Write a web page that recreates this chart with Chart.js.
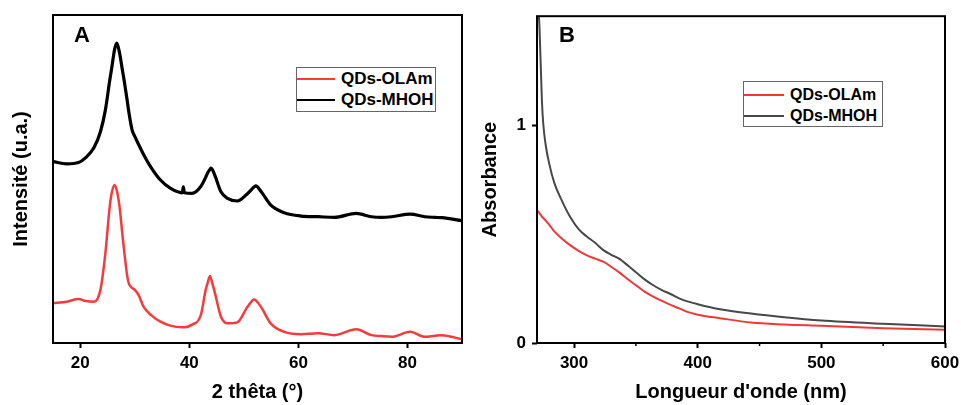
<!DOCTYPE html>
<html lang="fr">
<head>
<meta charset="utf-8">
<title>QDs - DRX et absorbance</title>
<script src="https://cdn.jsdelivr.net/npm/chart.js@4.4.1/dist/chart.umd.min.js"></script>
<style>
  body { margin: 0; background: #fff; }
  #wrap { position: relative; width: 961px; height: 405px; font-family: Arial, "Liberation Sans", sans-serif; }
  canvas { position: absolute; top: 0; }
  #chartA { left: 0; }
  #chartB { left: 480px; }
  .panel-letter { position: absolute; font-weight: bold; font-size: 22px; line-height: 22px; color: #000; }
  .legend { position: absolute; border: 1px solid #666; background: #fff; box-sizing: border-box; }
  .legend-row { display: flex; align-items: center; height: 21px; font-weight: bold; color: #000; white-space: nowrap; }
  .legend-line { display: inline-block; height: 2px; margin-right: 6px; }
  #legendA { left: 296px; top: 67px; width: 140px; height: 45px; font-size: 17px; }
  #legendA .legend-line { width: 38px; }
  #legendB { left: 743px; top: 81px; width: 140px; height: 46px; font-size: 16px; padding-top: 2px; }
  #legendB .legend-line { width: 40px; }
</style>
</head>
<body>
<div id="wrap">
  <canvas id="chartA" width="480" height="405"></canvas>
  <canvas id="chartB" width="481" height="405"></canvas>
  <div class="panel-letter" style="left:74px; top:24px;">A</div>
  <div class="panel-letter" style="left:559px; top:24px;">B</div>
  <div class="legend" id="legendA"></div>
  <div class="legend" id="legendB"></div>
</div>
<script>
// DRX (panel A)
const xrdAngle = [15, 17.5, 19.7, 21, 22.5, 23.7, 24.6, 25.4, 25.8, 26.3, 26.7, 27.2, 27.7, 28.1, 28.6, 28.9,
  29.5, 30, 30.7, 31.6, 33, 34.7, 36.5, 38.7, 38.9, 39.1, 40.5, 42.1, 43, 43.3, 43.8, 44, 44.7, 45.8, 47,
  48.8, 50.7, 51.9, 52.2, 53.1, 53.5, 54.9, 57.4, 60.5, 63.6, 66.6, 70.6, 73.4, 75.2, 77.1, 80.5, 83.2, 85,
  86.3, 90];
const xrdOlam = [12.1, 12.6, 13.4, 12.8, 12.6, 16.2, 27.3, 41.6, 46.0, 48.2, 46.5, 41.6, 33.5, 27.3, 20.5, 18.2,
  16.8, 16.2, 14.6, 11.1, 8.5, 6.5, 5.3, 4.8, 4.8, 4.8, 5.6, 8.5, 16.2, 18.0, 20.4, 19.5, 15.2, 8.0, 6.0,
  6.3, 11.1, 13.3, 13.0, 11.1, 10.0, 6.0, 3.4, 2.7, 3.0, 2.4, 4.2, 2.4, 2.1, 1.9, 3.4, 1.9, 2.2,
  2.4, 1.1];
const xrdMhoh = [55.3, 54.6, 55.0, 56.5, 59.5, 64.4, 71.0, 80.0, 84.2, 89.5, 91.4, 88.5, 83.5, 79.5, 74.0, 70.5,
  65.0, 63.0, 60.5, 57.5, 53.5, 49.7, 47.2, 45.8, 47.6, 45.8, 45.6, 47.7, 50.5, 51.7, 53.0, 53.3, 51.0, 46.1, 44.1,
  43.3, 45.6, 47.6, 47.9, 46.3, 45.4, 42.1, 39.7, 38.7, 38.5, 38.3, 39.5, 38.5, 38.3, 38.5, 39.3, 38.5, 38.3,
  38.2, 37.3];
const xrdTicks = [20, 40, 60, 80];

// UV-Vis (panel B)
const uvWave = [270, 271, 272, 273, 274, 275, 277, 280, 284, 290, 297, 304, 310, 317, 324, 330, 337, 344,
  351, 357, 364, 371, 378, 385, 391, 400, 418, 443, 470, 500, 550, 600];
const uvOlam = [0.61, 0.603, 0.595, 0.588, 0.58, 0.574, 0.562, 0.542, 0.512, 0.48, 0.448, 0.422, 0.403, 0.387,
  0.372, 0.35, 0.322, 0.29, 0.261, 0.236, 0.213, 0.193, 0.175, 0.159, 0.144, 0.13, 0.114, 0.094, 0.085, 0.079,
  0.068, 0.061];
const uvMhoh = [1.72, 1.56, 1.45, 1.28, 1.11, 1.01, 0.91, 0.82, 0.735, 0.655, 0.577, 0.52, 0.49, 0.46, 0.425,
  0.405, 0.385, 0.353, 0.32, 0.292, 0.265, 0.243, 0.225, 0.205, 0.192, 0.178, 0.155, 0.135, 0.118, 0.103,
  0.088, 0.076];
const uvTicksX = [300, 400, 500, 600];
const uvMinorX = [350, 450, 550];
const uvTicksY = [0, 1];

Chart.defaults.font.family = 'Arial, "Liberation Sans", sans-serif';
Chart.defaults.color = '#000';

const toPoints = (xs, ys) => xs.map((x, i) => ({ x: x, y: ys[i] }));

// box around the plot + small minor ticks
const frame = {
  id: 'frame',
  afterDraw(chart, args, opts) {
    const { ctx, chartArea: a } = chart;
    ctx.save();
    ctx.strokeStyle = '#000';
    ctx.lineWidth = 2;
    ctx.strokeRect(a.left, a.top, a.right - a.left, a.bottom - a.top);
    const xs = chart.scales.x;
    ctx.lineWidth = 1.5;
    (opts.minor || []).forEach(v => {
      const px = xs.getPixelForValue(v);
      ctx.beginPath();
      ctx.moveTo(px, a.bottom);
      ctx.lineTo(px, a.bottom + 3);
      ctx.stroke();
    });
    ctx.restore();
  }
};

const axisTicks = { drawOnChartArea: false, drawTicks: true, tickLength: 5, tickWidth: 2, tickColor: '#000' };
const tickFont = { size: 17, weight: 'bold' };
const titleFont = { size: 20, weight: 'bold', lineHeight: 1 };
// fixed axis box so the plot area lands where the reference has it
const fixX = s => { s.height = 62; s.paddingLeft = 0; s.paddingRight = 0; };

const chartA = new Chart(document.getElementById('chartA'), {
  type: 'line',
  data: {
    datasets: [
      {
        label: 'QDs-OLAm',
        data: toPoints(xrdAngle, xrdOlam),
        borderColor: '#f53b3b',
        borderWidth: 2.5,
        pointRadius: 0,
        cubicInterpolationMode: 'monotone',
        clip: 0
      },
      {
        label: 'QDs-MHOH',
        data: toPoints(xrdAngle, xrdMhoh),
        borderColor: '#000000',
        borderWidth: 3.2,
        pointRadius: 0,
        cubicInterpolationMode: 'monotone',
        clip: 0
      }
    ]
  },
  options: {
    responsive: false,
    animation: false,
    layout: { padding: { top: 15, right: 18, left: 0, bottom: 0 } },
    plugins: { legend: { display: false }, tooltip: { enabled: false }, frame: {} },
    scales: {
      x: {
        type: 'linear',
        min: 15,
        max: 90,
        afterBuildTicks: s => { s.ticks = xrdTicks.map(v => ({ value: v })); },
        afterFit: fixX,
        border: { display: false },
        grid: axisTicks,
        ticks: { padding: 5, font: tickFont, maxRotation: 0 },
        title: { display: true, text: '2 thêta (°)', font: titleFont, padding: { top: 0, bottom: 3 } }
      },
      y: {
        min: 0,
        max: 100,
        afterFit: s => { s.width = 53; },
        border: { display: false },
        grid: { display: false },
        ticks: { display: false },
        title: { display: true, text: 'Intensité (u.a.)', font: titleFont, padding: { top: 11, bottom: 0 } }
      }
    }
  },
  plugins: [frame]
});

const chartB = new Chart(document.getElementById('chartB'), {
  type: 'line',
  data: {
    datasets: [
      {
        label: 'QDs-OLAm',
        data: toPoints(uvWave, uvOlam),
        borderColor: '#f03838',
        borderWidth: 2,
        pointRadius: 0,
        cubicInterpolationMode: 'monotone',
        clip: 0
      },
      {
        label: 'QDs-MHOH',
        data: toPoints(uvWave, uvMhoh),
        borderColor: '#484848',
        borderWidth: 2,
        pointRadius: 0,
        cubicInterpolationMode: 'monotone',
        clip: 0
      }
    ]
  },
  options: {
    responsive: false,
    animation: false,
    layout: { padding: { top: 15, right: 16, left: 0, bottom: 0 } },
    plugins: { legend: { display: false }, tooltip: { enabled: false }, frame: { minor: uvMinorX } },
    scales: {
      x: {
        type: 'linear',
        min: 270,
        max: 600,
        afterBuildTicks: s => { s.ticks = uvTicksX.map(v => ({ value: v })); },
        afterFit: fixX,
        border: { display: false },
        grid: axisTicks,
        ticks: { padding: 5, font: tickFont, maxRotation: 0 },
        title: { display: true, text: "Longueur d'onde (nm)", font: titleFont, padding: { top: 0, bottom: 3 } }
      },
      y: {
        min: 0,
        max: 1.5,
        afterBuildTicks: s => { s.ticks = uvTicksY.map(v => ({ value: v })); },
        afterFit: s => { s.width = 57; },
        border: { display: false },
        grid: axisTicks,
        ticks: { padding: 6, font: tickFont },
        title: { display: true, text: 'Absorbance', font: titleFont, padding: { top: 0, bottom: 0 } }
      }
    }
  },
  plugins: [frame]
});

// legends with real text
function buildLegend(chart, el) {
  chart.data.datasets.forEach(ds => {
    const row = document.createElement('div');
    row.className = 'legend-row';
    const line = document.createElement('span');
    line.className = 'legend-line';
    line.style.background = ds.borderColor;
    const txt = document.createElement('span');
    txt.textContent = ds.label;
    row.append(line, txt);
    el.appendChild(row);
  });
}
buildLegend(chartA, document.getElementById('legendA'));
buildLegend(chartB, document.getElementById('legendB'));
</script>
</body>
</html>
